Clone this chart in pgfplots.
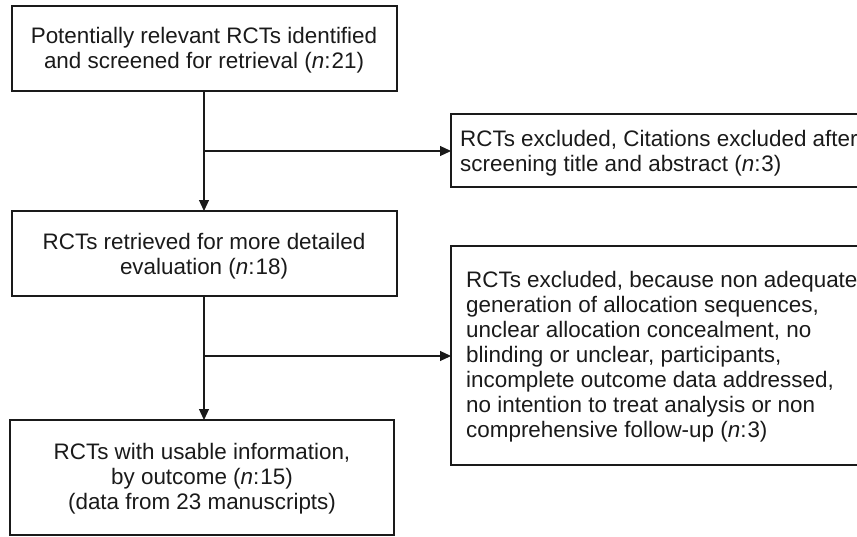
\documentclass[border=0pt]{standalone}
\usepackage{pgfplots}
\pgfplotsset{compat=1.18}
\usepackage{fontspec}
\setmainfont{Liberation Sans}
\usetikzlibrary{arrows.meta}
\definecolor{ink}{HTML}{1A1A1A}
\begin{document}
\begin{tikzpicture}
\tikzset{bx/.style={color=ink, line width=1.1pt, line join=miter, mark=none, sharp plot},
  ar/.style={bx, -{Triangle[length=11bp,width=10bp]}}}
\begin{axis}[name=ax, width=857bp, height=537bp, scale only axis,
  xmin=0, xmax=857, ymin=0, ymax=537, y dir=reverse, hide axis, clip=true]
% boxes
\addplot[bx] coordinates {(12,6) (397,6) (397,91) (12,91) (12,6) (397,6)};
\addplot[bx] coordinates {(12,211) (397,211) (397,296) (12,296) (12,211) (397,211)};
\addplot[bx] coordinates {(10,420) (394,420) (394,535) (10,535) (10,420) (394,420)};
\addplot[bx] coordinates {(900,114) (451,114) (451,187) (900,187)};
\addplot[bx] coordinates {(900,246) (451,246) (451,465) (900,465)};
% connectors
\addplot[ar] coordinates {(204,91) (204,211)};
\addplot[ar] coordinates {(204,151) (451,151)};
\addplot[ar] coordinates {(204,296) (204,420)};
\addplot[ar] coordinates {(204,356) (451,356)};
% texts
\tikzset{t/.style={font=\fontsize{22.5}{25}\selectfont, text=ink, inner sep=0pt}}
\node[t, anchor=base] at (axis cs:204,44) {Potentially relevant RCTs identified};
\node[t, anchor=base] at (axis cs:204,69) {and screened for retrieval (\textit{n}:\kern1pt21)};
\node[t, anchor=base] at (axis cs:204,249) {RCTs retrieved for more detailed};
\node[t, anchor=base] at (axis cs:204,274) {evaluation (\textit{n}:\kern1pt18)};
\node[t, anchor=base] at (axis cs:202,459) {RCTs with usable information,};
\node[t, anchor=base] at (axis cs:202,484) {by outcome (\textit{n}:\kern1pt15)};
\node[t, anchor=base] at (axis cs:202,509) {(data from 23 manuscripts)};
\node[t, anchor=base west] at (axis cs:460,146) {RCTs excluded, Citations excluded after};
\node[t, anchor=base west] at (axis cs:460,171) {screening title and abstract (\textit{n}:\kern1pt3)};
\node[t, anchor=base west] at (axis cs:466,287) {RCTs excluded, because non adequate};
\node[t, anchor=base west] at (axis cs:466,312) {generation of allocation sequences,};
\node[t, anchor=base west] at (axis cs:466,337) {unclear allocation concealment, no};
\node[t, anchor=base west] at (axis cs:466,362) {blinding or unclear, participants,};
\node[t, anchor=base west] at (axis cs:466,387) {incomplete outcome data addressed,};
\node[t, anchor=base west] at (axis cs:466,412) {no intention to treat analysis or non};
\node[t, anchor=base west] at (axis cs:466,437) {comprehensive follow-up (\textit{n}:\kern1pt3)};
\end{axis}
\pgfresetboundingbox
\path[use as bounding box] (ax.south west) rectangle (ax.north east);
\end{tikzpicture}
\end{document}
